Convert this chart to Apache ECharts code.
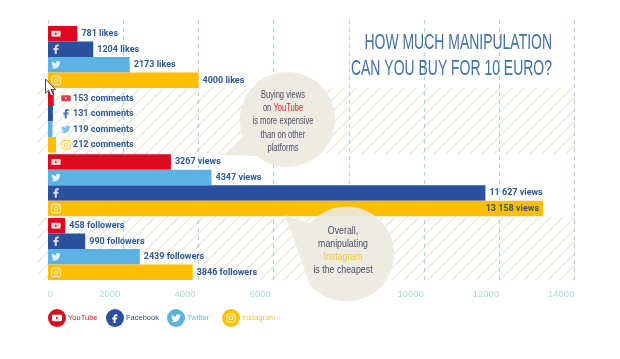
<!DOCTYPE html>
<html>
<head>
<meta charset="utf-8">
<style>
  html, body { margin: 0; padding: 0; background: #fff; }
  #chart { width: 620px; height: 359px; }
</style>
<script src="https://cdn.jsdelivr.net/npm/echarts@6/dist/echarts.min.js"></script>
</head>
<body>
<div id="chart"></div>
<script>
const platforms = ['YouTube', 'Facebook', 'Twitter', 'Instagram']
const viewsOrder = ['YouTube', 'Twitter', 'Facebook', 'Instagram']

const likes = [781, 1204, 2173, 4000]
const comments = [153, 131, 119, 212]
const views = [3267, 4347, 11627, 13158]
const followers = [458, 990, 2439, 3846]
const xTicks = [0, 2000, 4000, 6000, 8000, 10000, 12000, 14000]

const colors = { YouTube: '#dc0a1e', Facebook: '#2b50a0', Twitter: '#5cb3e3', Instagram: '#fdbf00' }
const legendText = { YouTube: '#d8232f', Facebook: '#2f5490', Twitter: '#6cbbe6', Instagram: '#f7c435' }
const icons = {
  YouTube: 'path://M4 5h16a3 3 0 0 1 3 3v8a3 3 0 0 1-3 3H4a3 3 0 0 1-3-3V8a3 3 0 0 1 3-3z M10 9v6l5-3z',
  Facebook: 'path://M14 8h3V4h-3c-2.8 0-5 2.2-5 5v2H6v4h3v8h4v-8h3l1-4h-4V9c0-.6.4-1 1-1z',
  Twitter: 'path://M22.46 6C21.69 6.35 20.86 6.58 20 6.69C20.88 6.16 21.56 5.32 21.88 4.31C21.05 4.81 20.13 5.16 19.16 5.36C18.37 4.5 17.26 4 16 4C13.65 4 11.73 5.92 11.73 8.29C11.73 8.63 11.77 8.96 11.84 9.27C8.28 9.09 5.11 7.38 3 4.79C2.63 5.42 2.42 6.16 2.42 6.94C2.42 8.43 3.17 9.75 4.33 10.5C3.62 10.5 2.96 10.3 2.38 10C2.38 10 2.38 10 2.38 10.03C2.38 12.11 3.86 13.85 5.82 14.24C5.46 14.34 5.08 14.39 4.69 14.39C4.42 14.39 4.15 14.36 3.89 14.31C4.43 16 6 17.26 7.89 17.29C6.43 18.45 4.58 19.13 2.56 19.13C2.22 19.13 1.88 19.11 1.54 19.07C3.44 20.29 5.7 21 8.12 21C16 21 20.33 14.46 20.33 8.79C20.33 8.6 20.33 8.42 20.32 8.23C21.16 7.63 21.88 6.87 22.46 6Z',
  Instagram: 'path://M7 2h10a5 5 0 0 1 5 5v10a5 5 0 0 1-5 5H7a5 5 0 0 1-5-5V7a5 5 0 0 1 5-5z M7 4a3 3 0 0 0-3 3v10a3 3 0 0 0 3 3h10a3 3 0 0 0 3-3V7a3 3 0 0 0-3-3z M12 7a5 5 0 0 1 0 10a5 5 0 0 1 0-10z M12 9a3 3 0 0 0 0 6a3 3 0 0 0 0-6z M17.5 5.2a1.3 1.3 0 0 1 0 2.6a1.3 1.3 0 0 1 0-2.6z'
}

const SANS = '"Liberation Sans", sans-serif'
const LABEL_BLUE = '#2f5a9b'

const groups = [
  { unit: 'likes', values: likes, order: platforms, top: 26 },
  { unit: 'comments', values: comments, order: platforms, top: 90.5 },
  { unit: 'views', values: views, order: viewsOrder, top: 154.3 },
  { unit: 'followers', values: followers, order: platforms, top: 218 }
]

// 千位空格，和原图一样 11 627
function formatValue(v) {
  return v >= 10000 ? String(v).replace(/(\d{3})$/, ' $1') : String(v)
}

function barLabel(group, value) {
  const text = formatValue(value) + ' ' + group.unit
  if (group.unit === 'comments') {
    return { show: true, position: 'insideLeft', distance: 5, offset: [20, 0], formatter: text }
  }
  if (value > 13000) {
    return { show: true, position: 'insideRight', distance: 4, color: '#3f5560', formatter: text }
  }
  return { show: true, position: 'right', distance: 4, formatter: text }
}

const grid = [], xAxis = [], yAxis = [], series = []

groups.forEach((group, g) => {
  grid.push({ left: 48, right: 45.3, top: group.top, height: 62 })
  xAxis.push({ gridIndex: g, type: 'value', min: 0, max: 14000, show: false })
  yAxis.push({ gridIndex: g, type: 'category', inverse: true, show: false, data: group.order })

  platforms.forEach((name) => {
    series.push({
      name,
      type: 'bar',
      xAxisIndex: g,
      yAxisIndex: g,
      barWidth: '100%',
      barGap: '-100%',
      itemStyle: { color: colors[name] },
      label: { fontFamily: 'Roboto', fontSize: 9, fontWeight: 'bold', color: LABEL_BLUE },
      data: group.order.map((rowName, i) => rowName === name
        ? { value: group.values[i], label: barLabel(group, group.values[i]) }
        : null)
    })
  })

  // 图标：comments 的柱子太短，图标放柱子外面
  const inComments = group.unit === 'comments'
  series.push({
    name: 'icons-' + group.unit,
    type: 'scatter',
    xAxisIndex: g,
    yAxisIndex: g,
    silent: true,
    symbolKeepAspect: true,
    symbolSize: 9.5,
    symbolOffset: [inComments ? 18 : 8, 0],
    z: 5,
    data: group.order.map((name, i) => ({
      value: [0, i],
      symbol: icons[name],
      itemStyle: { color: inComments ? colors[name] : '#fff' }
    }))
  })
})

// 主网格只负责虚线和刻度
grid.push({ left: 48, right: 45.3, top: 20, bottom: 79 })
xAxis.push({
  gridIndex: 4,
  type: 'value',
  min: xTicks[0],
  max: xTicks[xTicks.length - 1],
  interval: 2000,
  axisLine: { show: false },
  axisTick: { show: false },
  splitLine: { show: true, lineStyle: { type: [4, 4], color: '#a5dbd8', width: 1.2 } },
  axisLabel: {
    margin: 9,
    formatter: (v) => (v === 0 ? '{zero|0}' : '{num|' + v + '}'),
    rich: {
      zero: { fontFamily: SANS, fontSize: 9.5, color: '#a9dcdd', padding: [0, 0, 0, 5] },
      num: { fontFamily: SANS, fontSize: 9.5, color: '#a9dcdd', padding: [0, 27, 0, 0] }
    }
  }
})
yAxis.push({ gridIndex: 4, type: 'category', show: false, data: [''] })

// 每个平台一个图例，间距和原图一致
const legendLeft = [48, 106, 167, 222]
const legend = platforms.map((name, i) => ({
  left: legendLeft[i],
  top: 309,
  padding: 0,
  itemWidth: 18,
  itemHeight: 18,
  textStyle: { fontFamily: SANS, fontSize: 7.5, color: legendText[name], padding: [0, 0, 0, -3] },
  data: [{ name, icon: 'circle' }]
}))

// 气泡和图例里的白色图标，graphic 组件不支持 path，用 custom
const BUBBLE = '#ece9df'
const ICON_SCALE = 0.46
const decor = [
  { pathData: 'M223 155L243.3 137A47.5 47.5 0 1 1 257 155.9Z', fill: BUBBLE, opacity: 0.9 },
  { pathData: 'M285 215L310 223.6A47.5 47.5 0 1 1 310 284.4Z', fill: BUBBLE, opacity: 0.9 }
].concat(platforms.map((name, i) => ({
  pathData: icons[name].replace('path://', ''),
  x: legendLeft[i] + 9 - 12 * ICON_SCALE,
  y: 318 - 12 * ICON_SCALE,
  scale: ICON_SCALE,
  fill: '#fff',
  opacity: 1
})))

series.push({
  type: 'custom',
  coordinateSystem: 'none',
  silent: true,
  z: 100,
  data: decor.map((d, i) => i),
  renderItem: (params, api) => {
    const d = decor[api.value(0)]
    return {
      type: 'path',
      x: d.x || 0,
      y: d.y || 0,
      scaleX: d.scale || 1,
      scaleY: d.scale || 1,
      shape: { pathData: d.pathData },
      style: { fill: d.fill, opacity: d.opacity }
    }
  }
})

// 斜线底纹
function hatchTile() {
  const size = 12
  const c = document.createElement('canvas')
  c.width = size
  c.height = size
  const ctx = c.getContext('2d')
  ctx.strokeStyle = '#efeee3'
  ctx.lineWidth = 1.8
  ;[[-6, 6, 6, -6], [0, 12, 12, 0], [6, 18, 18, 6]].forEach((p) => {
    ctx.beginPath()
    ctx.moveTo(p[0], p[1])
    ctx.lineTo(p[2], p[3])
    ctx.stroke()
  })
  return c
}
const hatch = { image: hatchTile(), repeat: 'repeat' }

const BUBBLE_TEXT = '#4b4d6b'
const graphic = [
  { type: 'rect', z: -1, silent: true, shape: { x: 38, y: 88, width: 537, height: 66 }, style: { fill: hatch } },
  { type: 'rect', z: -1, silent: true, shape: { x: 38, y: 217, width: 537, height: 63 }, style: { fill: hatch } },
  {
    type: 'text', x: 552, y: 30, scaleX: 0.635, z: 10,
    style: {
      text: 'HOW MUCH MANIPULATION\nCAN YOU BUY FOR 10 EURO?',
      align: 'right',
      fontFamily: SANS,
      fontSize: 22,
      lineHeight: 26,
      fill: '#3f70aa'
    }
  },
  {
    type: 'text', x: 283, y: 88.5, scaleX: 0.72, z: 101,
    style: {
      text: 'Buying views\non {r|YouTube}\nis more expensive\nthan on other\nplatforms',
      align: 'center',
      fontFamily: SANS,
      fontSize: 10.5,
      fill: BUBBLE_TEXT,
      lineHeight: 13.2,
      rich: { r: { fontFamily: SANS, fontSize: 10.5, fill: '#e2222c', lineHeight: 13.2 } }
    }
  },
  {
    type: 'text', x: 343, y: 224, scaleX: 0.8, z: 101,
    style: {
      text: 'Overall,\nmanipulating\n{y|Instagram}\nis the cheapest',
      align: 'center',
      fontFamily: SANS,
      fontSize: 11,
      fill: BUBBLE_TEXT,
      lineHeight: 13.2,
      rich: { y: { fontFamily: SANS, fontSize: 11, fill: '#f6c441', lineHeight: 13.2 } }
    }
  },
  // 截图里带的鼠标指针
  {
    type: 'polygon', z: 110, silent: true,
    shape: { points: [[45.5, 79], [45.5, 93], [48.5, 90.5], [51, 96], [53.5, 95], [51, 89.5], [55.5, 89.5]] },
    style: { fill: '#fff', stroke: '#222', lineWidth: 0.8 }
  }
]

const option = {
  animation: false,
  backgroundColor: '#fff',
  legend,
  grid,
  xAxis,
  yAxis,
  series,
  graphic
}

const myChart = echarts.init(document.getElementById('chart'), null, { renderer: 'canvas' })
myChart.setOption(option)
</script>
</body>
</html>
